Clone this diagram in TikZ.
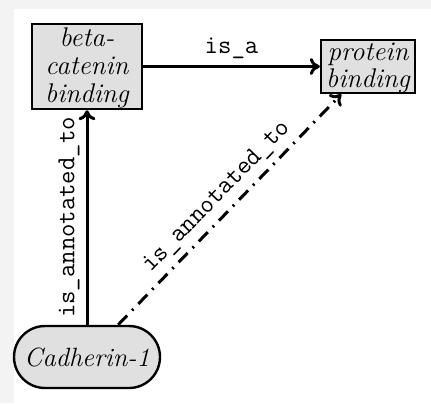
\documentclass[tikz,border=0pt]{standalone}
\usetikzlibrary{arrows.meta}
\definecolor{boxfill}{RGB}{224,224,224}
\definecolor{pagegray}{RGB}{243,243,243}
\tikzset{
  termbox/.style={draw=black, line width=1.2pt, fill=boxfill, inner sep=0pt,
    align=center, font=\fontsize{13.5}{14}\selectfont\itshape},
  genebox/.style={draw=black, line width=1.2pt, fill=boxfill, inner sep=0pt,
    rounded corners=15.5pt, font=\fontsize{13.2}{14}\selectfont\itshape},
  rel/.style={line width=1.5pt, -{To[length=5pt,width=8.5pt]}},
  reldash/.style={rel, dash pattern=on 6.5pt off 3.5pt on 1pt off 3.5pt},
  rellabel/.style={font=\fontsize{13}{14}\selectfont\ttfamily, inner sep=2pt}
}
\begin{document}
\begin{tikzpicture}[x=0.5pt,y=-0.5pt]
  % page area
  \fill[pagegray] (0,0) rectangle (431,403);
  \fill[white] (14,9) rectangle (431,403);
  \useasboundingbox (0,0) rectangle (431,403);

  % nodes
  \node[termbox, minimum width=55pt, minimum height=42.5pt] (beta) at (87,66.5) {};
  \node[align=center, font=\fontsize{13.5}{14}\selectfont\itshape, inner sep=0pt]
    at (87,68) {beta-\\catenin\\binding};
  \node[termbox, minimum width=47pt, minimum height=26.5pt] (prot) at (368,66.5) {};
  \node[align=center, font=\fontsize{13.5}{13.5}\selectfont\itshape, inner sep=0pt]
    at (368,67.5) {protein\\binding};
  \node[genebox, minimum width=73pt, minimum height=31pt] (cad) at (87,357)
    {Cadherin-1};

  % relations
  \draw[rel] (beta) -- node[rellabel, above=1pt] {is\_a} (prot);
  \draw[rel] (cad) -- node[rellabel, sloped, above=1pt] {is\_annotated\_to} (beta);
  \draw[reldash] (cad) -- node[rellabel, sloped, above=1pt] {is\_annotated\_to} (prot);
\end{tikzpicture}
\end{document}
